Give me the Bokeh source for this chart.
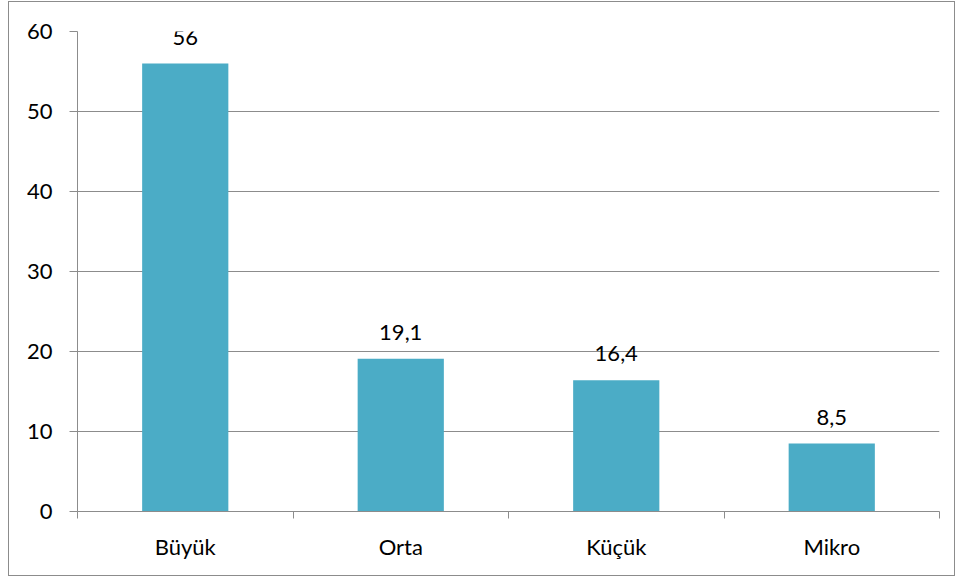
from bokeh.plotting import figure
from bokeh.models import ColumnDataSource, FixedTicker, LabelSet, Range1d
from bokeh.core.properties import value
from bokeh.embed import file_html
from bokeh.resources import INLINE

# Share of firms by size class
categories = ["Büyük", "Orta", "Küçük", "Mikro"]
values = [56, 19.1, 16.4, 8.5]
value_labels = ["56", "19,1", "16,4", "8,5"]
y_ticks = [0, 10, 20, 30, 40, 50, 60]

BAR = "#4BACC6"
GRID = "#8C8C8C"
FONT = "Lato"
SIZE = "22px"

centers = [i + 0.5 for i in range(len(categories))]
src = ColumnDataSource(dict(x=centers, top=values, label=value_labels))

p = figure(width=947, height=575, output_backend="svg", toolbar_location=None,
           x_range=Range1d(0, len(categories)), y_range=Range1d(0, 60),
           min_border_left=68, min_border_right=17, min_border_top=29, min_border_bottom=66)
p.styles = {"border": f"1px solid {GRID}", "box-sizing": "border-box"}
p.margin = (1, 0, 0, 8)
p.outline_line_color = None
p.background_fill_color = "white"
p.border_fill_color = "white"

p.vbar(x="x", top="top", width=0.4, source=src, fill_color=BAR, line_color=None)

p.add_layout(LabelSet(x="x", y="top", text="label", source=src, text_align="center",
                      text_baseline="alphabetic", y_offset=19, text_font=value(FONT),
                      text_font_size=value(SIZE), text_color="black"))

# y axis
p.yaxis.ticker = FixedTicker(ticks=y_ticks)
p.yaxis.axis_line_color = GRID
p.yaxis.major_tick_line_color = GRID
p.yaxis.major_tick_out = 8
p.yaxis.major_tick_in = 0
p.yaxis.minor_tick_line_color = None
p.yaxis.major_label_standoff = 17
p.yaxis.major_label_text_font = FONT
p.yaxis.major_label_text_font_size = SIZE
p.yaxis.major_label_text_color = "black"

# x axis: category names at bar centers, ticks between categories
p.xaxis.ticker = FixedTicker(ticks=centers, minor_ticks=list(range(len(categories) + 1)))
p.xaxis.major_label_overrides = {c: name for c, name in zip(centers, categories)}
p.xaxis.axis_line_color = GRID
p.xaxis.major_tick_line_color = None
p.xaxis.minor_tick_line_color = GRID
p.xaxis.minor_tick_out = 7
p.xaxis.minor_tick_in = 0
p.xaxis.major_tick_out = 7
p.xaxis.major_label_standoff = 14
p.xaxis.major_label_text_font = FONT
p.xaxis.major_label_text_font_size = SIZE
p.xaxis.major_label_text_color = "black"

p.xgrid.grid_line_color = None
p.ygrid.ticker = FixedTicker(ticks=y_ticks[1:])
p.ygrid.grid_line_color = GRID
p.ygrid.grid_line_width = 1

open("out.html", "w").write(file_html(p, INLINE))
